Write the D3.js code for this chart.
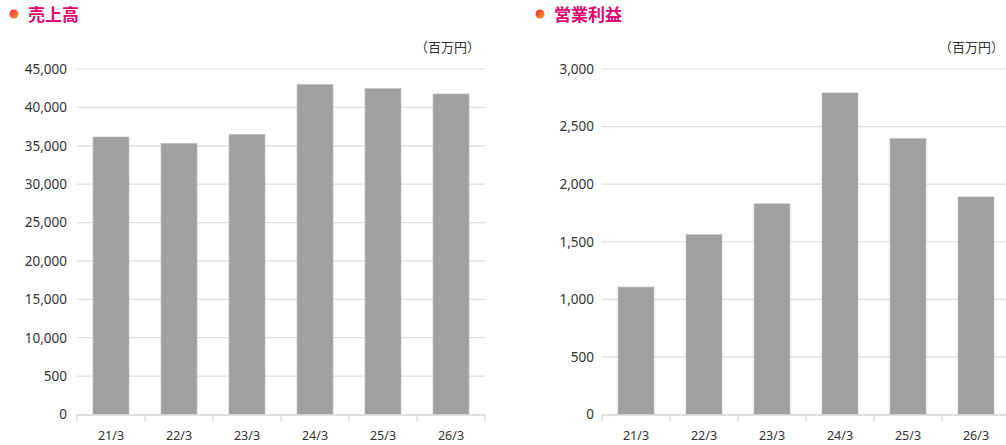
<!DOCTYPE html>
<html><head><meta charset="utf-8">
<script src="https://cdn.jsdelivr.net/npm/d3@7"></script>
<style>
html,body{margin:0;padding:0;background:#fff;overflow:hidden;}
svg{display:block;}
</style></head>
<body>
<svg id="c" width="1006" height="445"></svg>
<script>
const categories = ["21/3","22/3","23/3","24/3","25/3","26/3"];
const salesValues = [36150, 35320, 36500, 43000, 42480, 41750];
const profitValues = [1107, 1562, 1830, 2793, 2398, 1890];
const salesTicks = [0,5000,10000,15000,20000,25000,30000,35000,40000,45000];
const salesTickLabels = ["0","500","10,000","15,000","20,000","25,000","30,000","35,000","40,000","45,000"];
const profitTicks = [0,500,1000,1500,2000,2500,3000];
const profitTickLabels = ["0","500","1,000","1,500","2,000","2,500","3,000"];
const titles = ["売上高","営業利益"];
const unitLabel = "（百万円）";

const svg = d3.select("#c");
const defs = svg.append("defs");
const grad = defs.append("linearGradient").attr("id","dotg")
  .attr("x1","0").attr("y1","0").attr("x2","1").attr("y2","1");
grad.append("stop").attr("offset","0%").attr("stop-color","#e8233f");
grad.append("stop").attr("offset","100%").attr("stop-color","#f7a21b");

const fontNum = "'Noto Sans','Open Sans',sans-serif";
const fontJP = "'Noto Sans CJK JP',sans-serif";

function drawChart(cfg){
  const g = svg.append("g");
  // title
  g.append("circle").attr("cx",cfg.dotX).attr("cy",14).attr("r",4.5).attr("fill","url(#dotg)");
  g.append("text").attr("x",cfg.titleX).attr("y",21).text(cfg.title)
    .attr("font-family",fontJP).attr("font-size",17).attr("font-weight",700).attr("fill","#e4006e");
  // unit
  g.append("text").attr("x",cfg.unitX).attr("y",52).attr("text-anchor","end").text(unitLabel)
    .attr("font-family",fontJP).attr("font-size",13).attr("fill","#333");

  const x = d3.scaleBand().domain(categories).range([cfg.x0,cfg.x1]).paddingInner(0.47).paddingOuter(0.235);
  const y = d3.scaleLinear().domain([0,cfg.max]).range([414.5,69]);

  // gridlines
  g.selectAll(".grid").data(cfg.ticks.filter(t=>t>0)).enter().append("line")
    .attr("x1",cfg.x0).attr("x2",cfg.x1).attr("y1",d=>y(d)).attr("y2",d=>y(d))
    .attr("stroke","#dedede").attr("stroke-width",1.2);

  // y axis labels
  const yAxis = d3.axisLeft(y).tickValues(cfg.ticks).tickSize(0).tickPadding(0)
    .tickFormat((d,i)=>cfg.tickLabels[i]);
  const ya = g.append("g").attr("transform",`translate(${cfg.labelX},0)`).call(yAxis);
  ya.select(".domain").remove();
  ya.selectAll("text").attr("font-family",fontNum).attr("font-size",13.5).attr("fill","#333");

  // bars
  g.selectAll(".bar").data(cfg.values).enter().append("rect")
    .attr("x",(d,i)=>x(categories[i])).attr("width",x.bandwidth())
    .attr("y",d=>y(d)).attr("height",d=>y(0)-y(d))
    .attr("fill","#a0a0a0").attr("stroke","#c4c4c4").attr("stroke-width",0.6);

  // x axis
  const step = x.step();
  const xb = d3.scaleLinear().domain([0,categories.length]).range([cfg.x0,cfg.x0+step*categories.length]);
  g.append("line").attr("x1",cfg.x0).attr("x2",cfg.x1).attr("y1",y(0)+0.5).attr("y2",y(0)+0.5)
    .attr("stroke","#d6d6d6").attr("stroke-width",1.5);
  g.selectAll(".tk").data(d3.range(categories.length+1)).enter().append("line")
    .attr("x1",d=>xb(d)).attr("x2",d=>xb(d)).attr("y1",y(0)).attr("y2",y(0)+7)
    .attr("stroke","#d6d6d6").attr("stroke-width",1.2);
  const xAxis = d3.axisBottom(x).tickSize(0).tickPadding(0);
  const xa = g.append("g").attr("transform",`translate(0,${y(0)+17})`).call(xAxis);
  xa.select(".domain").remove();
  xa.selectAll("text").attr("font-family",fontNum).attr("font-size",12.5).attr("fill","#333");
}

drawChart({title:titles[0],dotX:14,titleX:28,unitX:480,x0:77,x1:485,labelX:67,
  max:45000,ticks:salesTicks,tickLabels:salesTickLabels,values:salesValues});
drawChart({title:titles[1],dotX:540,titleX:554,unitX:1004,x0:602,x1:1010,labelX:594,
  max:3000,ticks:profitTicks,tickLabels:profitTickLabels,values:profitValues});
</script>
</body></html>
